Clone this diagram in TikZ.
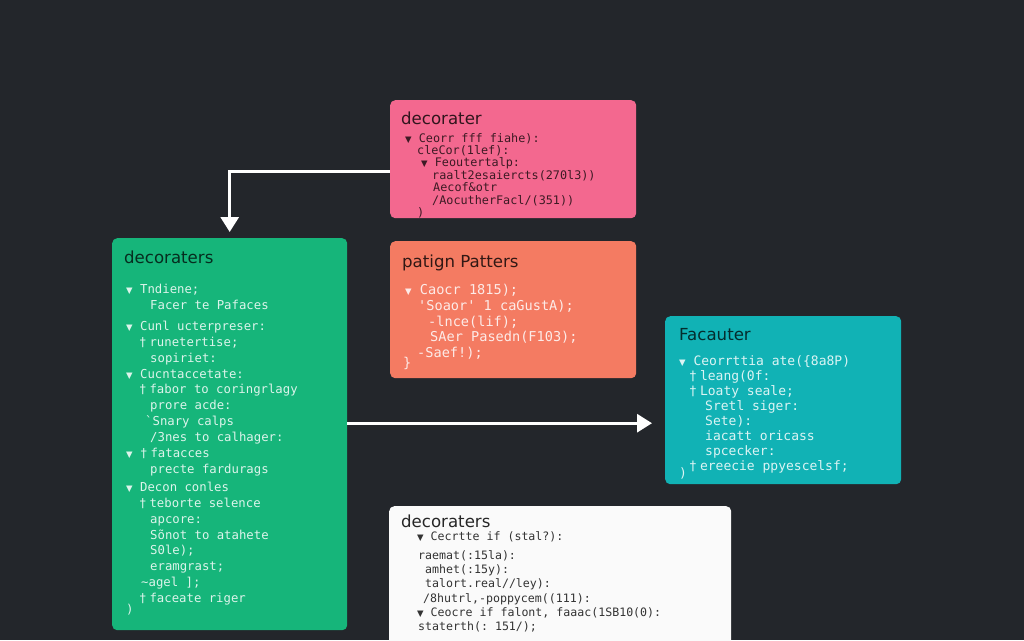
\documentclass[tikz,border=0pt]{standalone}
\usepackage{fontspec}
\setmainfont{DejaVu Sans}
\setmonofont{DejaVu Sans Mono}
\newfontfamily\trifont{DejaVu Sans}
\usetikzlibrary{arrows.meta}

\definecolor{bgdark}{HTML}{23262B}
\definecolor{boxpink}{HTML}{F3688F}
\definecolor{boxsalmon}{HTML}{F47B62}
\definecolor{boxgreen}{HTML}{16B57A}
\definecolor{boxteal}{HTML}{11B2B5}
\definecolor{boxwhite}{HTML}{FAFAFA}

% small markers used in the code lines
\newcommand{\tri}{{\trifont\fontsize{8.5}{8.5}\selectfont ▼}}
\newcommand{\mk}{†\hspace{3pt}}

\tikzset{
  box/.style={rectangle, rounded corners=5pt, inner sep=0pt, anchor=north west},
  boxtitle/.style={anchor=base west, inner sep=0pt, font=\fontsize{16.6}{16.6}\selectfont},
  codetext/.style={anchor=north west, inner sep=0pt, align=left},
  flow/.style={draw=white, line width=3pt, -{Triangle[length=15pt,width=18pt]}}
}

\begin{document}
\begin{tikzpicture}[x=1pt, y=-1pt]
  % Background
  \clip (0,0) rectangle (1024,640);
  \fill[bgdark] (0,0) rectangle (1024,640);

  % Boxes
  \node[box, fill=boxpink, minimum width=246pt, minimum height=118pt] (pink) at (390,100) {};
  \node[box, fill=boxsalmon, minimum width=246pt, minimum height=137pt] (salmon) at (390,241) {};
  \node[box, fill=boxgreen, minimum width=235pt, minimum height=392pt] (green) at (112,238) {};
  \node[box, fill=boxteal, minimum width=236pt, minimum height=168pt] (teal) at (665,316) {};
  \node[box, fill=boxwhite, minimum width=342pt, minimum height=160pt] (white) at (389,506) {};

  % Titles
  \node[boxtitle, text=black!80!boxpink] (pinkhead) at (401,124) {decorater};
  \node[boxtitle, text=black!80!boxsalmon] (salmonhead) at (402,267) {patign Patters};
  \node[boxtitle, text=black!75!boxgreen] (greenhead) at (124,263) {decoraters};
  \node[boxtitle, text=black!75!boxteal] (tealhead) at (679,340) {Facauter};
  \node[boxtitle, text=black!85] (whitehead) at (401,527) {decoraters};

  % Code lines
  \node[codetext, text=black!75!boxpink, font=\ttfamily\fontsize{11.8}{12.4}\selectfont] (pinkcode) at (405,133) {%
    \tri\ Ceorr fff fiahe):\\
    \hspace*{12pt}cleCor(1lef):\\
    \hspace*{16pt}\tri\ Feoutertalp:\\
    \hspace*{27pt}raalt2esaiercts(270l3))\\
    \hspace*{28pt}Aecof\&otr\\
    \hspace*{27pt}/AocutherFacl/(351))\\
    \hspace*{12pt})};

  \node[codetext, text=white!85!boxsalmon, font=\ttfamily\fontsize{13.6}{15.8}\selectfont] (salmoncode) at (405,284) {%
    \tri\ Caocr 1815);\\
    \hspace*{13pt}'Soaor' 1 caGustA);\\
    \hspace*{23pt}-lnce(lif);\\
    \hspace*{25pt}SAer Pasedn(F103);\\
    \hspace*{12pt}-Saef!);\\[-6pt]
    \hspace*{-2pt}\}};

  \node[codetext, text=white!85!boxgreen, font=\ttfamily\fontsize{12.3}{15.9}\selectfont] (greencode) at (126,284) {%
    \tri\ Tndiene;\\
    \hspace*{24pt}Facer te Pafaces\\[5pt]
    \tri\ Cunl ucterpreser:\\
    \hspace*{13pt}\mk runetertise;\\
    \hspace*{24pt}sopiriet:\\
    \tri\ Cucntaccetate:\\
    \hspace*{13pt}\mk fabor to coringrlagy\\
    \hspace*{24pt}prore acde:\\
    \hspace*{19pt}`Snary calps\\
    \hspace*{24pt}/3nes to calhager:\\
    \tri\ \mk fatacces\\
    \hspace*{24pt}precte fardurags\\[2pt]
    \tri\ Decon conles\\
    \hspace*{13pt}\mk teborte selence\\
    \hspace*{24pt}apcore:\\
    \hspace*{24pt}Sõnot to atahete\\
    \hspace*{24pt}S0le);\\
    \hspace*{24pt}eramgrast;\\
    \hspace*{15pt}\textasciitilde agel ];\\
    \hspace*{13pt}\mk faceate riger\\[-5pt]
    )};

  \node[codetext, text=white!85!boxteal, font=\ttfamily\fontsize{13}{15}\selectfont] (tealcode) at (679,355.5) {%
    \tri\ Ceorrttia ate(\{8a8P)\\
    \hspace*{10pt}\mk leang(0f:\\
    \hspace*{10pt}\mk Loaty seale;\\
    \hspace*{26pt}Sretl siger:\\
    \hspace*{26pt}Sete):\\
    \hspace*{26pt}iacatt oricass\\
    \hspace*{26pt}spcecker:\\
    \hspace*{10pt}\mk ereecie ppyescelsf;\\[-8pt]
    )};

  \node[codetext, text=black!80, font=\ttfamily\fontsize{11.6}{14.3}\selectfont] (whitecode) at (417,531) {%
    \tri\ Cecrtte if (stal?):\\[5pt]
    \hspace*{1pt}raemat(:15la):\\
    \hspace*{8pt}amhet(:15y):\\
    \hspace*{8pt}talort.real//ley):\\
    \hspace*{6pt}/8hutrl,-poppycem((111):\\
    \tri\ Ceocre if falont, faaac(1SB10(0):\\
    \hspace*{1pt}staterth(: 151/);};

  % Connectors
  \draw[flow] ([yshift=-12pt]pink.west) -| ([yshift=6pt]green.north);
  \coordinate (gout) at ([yshift=11pt]green.east);
  \draw[flow] (gout) -- ([xshift=-13pt]teal.west |- gout);
\end{tikzpicture}
\end{document}
